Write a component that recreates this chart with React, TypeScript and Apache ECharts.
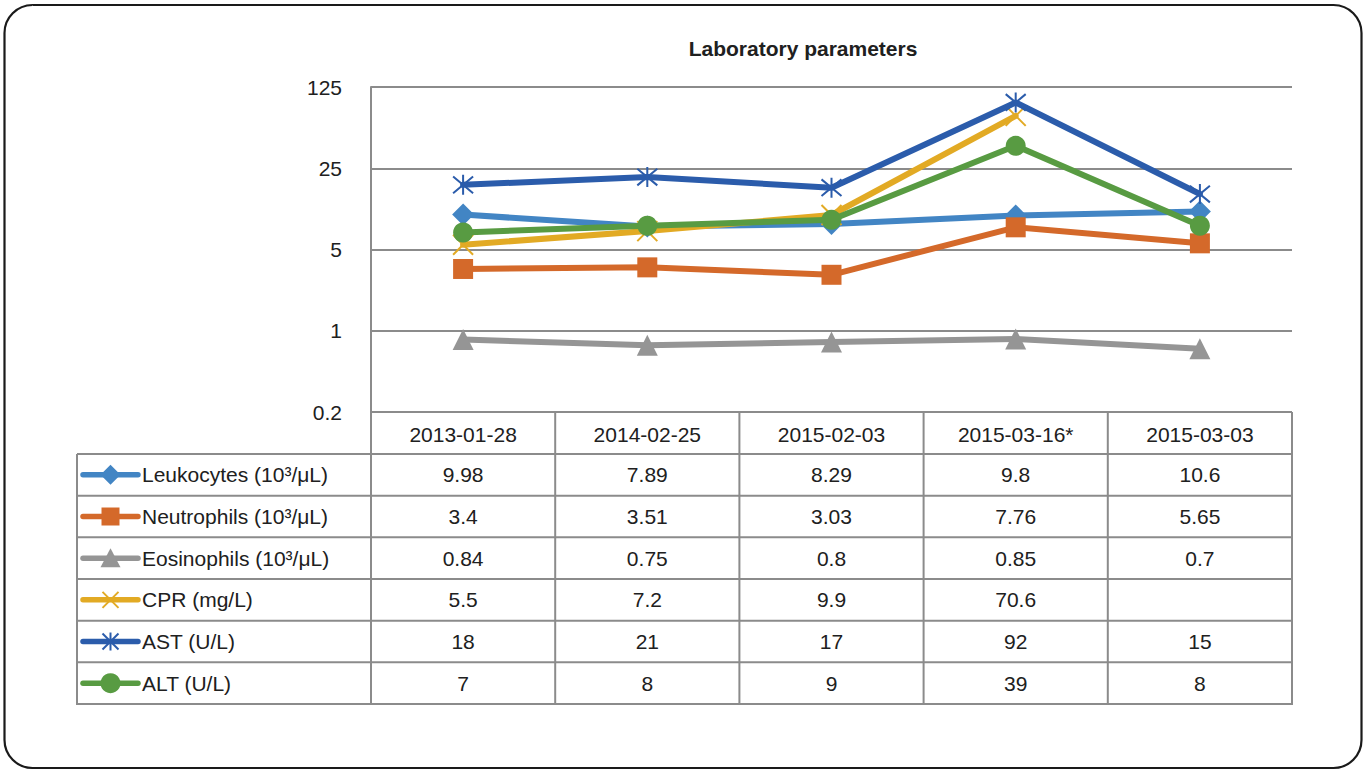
import React, { useEffect, useRef } from 'react';
import * as echarts from 'echarts';

// ---------- data ----------
const categories = ['2013-01-28', '2014-02-25', '2015-02-03', '2015-03-16*', '2015-03-03'];
const seriesNames = [
  'Leukocytes (10³/μL)',
  'Neutrophils (10³/μL)',
  'Eosinophils (10³/μL)',
  'CPR (mg/L)',
  'AST (U/L)',
  'ALT (U/L)',
];
const leukocytes = [9.98, 7.89, 8.29, 9.8, 10.6];
const neutrophils = [3.4, 3.51, 3.03, 7.76, 5.65];
const eosinophils = [0.84, 0.75, 0.8, 0.85, 0.7];
const cpr: (number | null)[] = [5.5, 7.2, 9.9, 70.6, null];
const ast = [18, 21, 17, 92, 15];
const alt = [7, 8, 9, 39, 8];
const yMin = 0.2;
const yMax = 125;
const titleText = 'Laboratory parameters';

// ---------- styles ----------
const FONT = '"Liberation Sans", Arial, Helvetica, sans-serif';
const FS = 21;
const TEXT = '#202020';
const GRID_C = '#8b8b8b';
const colors = ['#4285c4', '#d4692a', '#959595', '#e2aa24', '#2b5cab', '#589b42'];
const XPATH = 'path://M0,0L10,10M10,0L0,10';
const STARPATH = 'path://M0,0L10,10M10,0L0,10M5,-1L5,11';
const symbols = ['diamond', 'rect', 'triangle', XPATH, STARPATH, 'circle'];
const symbolSizes = [22, 20, 21, 20, 20, 20];
const seriesData = [leukocytes, neutrophils, eosinophils, cpr, ast, alt];

// layout (px in the 1363x770 canvas)
const G_LEFT = 371;
const G_RIGHT = 1292;
const G_TOP = 87;
const G_BOTTOM = 412;
const T_LEFT = 77;
const HEAD_BOTTOM = 454;
const ROW_H = 41.67;

function buildGraphic() {
  const els: any[] = [];
  // outer rounded frame
  els.push({
    type: 'rect',
    shape: { x: 4.5, y: 5, width: 1357, height: 763, r: 28 },
    style: { fill: 'none', stroke: '#1a1a1a', lineWidth: 2.2 },
    silent: true,
  });
  // title
  els.push({
    type: 'text',
    x: 803,
    y: 48,
    style: {
      text: titleText,
      font: `bold 21px ${FONT}`,
      fill: TEXT,
      align: 'center',
      verticalAlign: 'middle',
    },
  });
  const nRows = seriesNames.length;
  const tableBottom = HEAD_BOTTOM + nRows * ROW_H;
  const colW = (G_RIGHT - G_LEFT) / categories.length;
  const lineStyle = { stroke: GRID_C, lineWidth: 2 };
  // horizontal lines
  for (let r = 0; r <= nRows; r++) {
    const y = HEAD_BOTTOM + r * ROW_H;
    els.push({ type: 'line', shape: { x1: T_LEFT, y1: y, x2: G_RIGHT + 1, y2: y }, style: lineStyle, z: 1 });
  }
  // vertical lines
  els.push({ type: 'line', shape: { x1: T_LEFT, y1: HEAD_BOTTOM, x2: T_LEFT, y2: tableBottom + 1 }, style: lineStyle, z: 1 });
  for (let c = 0; c <= categories.length; c++) {
    const x = G_LEFT + c * colW;
    els.push({ type: 'line', shape: { x1: x, y1: G_BOTTOM, x2: x, y2: tableBottom + 1 }, style: lineStyle, z: 1 });
  }
  // rows: legend icon + label + values
  for (let r = 0; r < nRows; r++) {
    const cy = HEAD_BOTTOM + r * ROW_H + ROW_H / 2;
    const color = colors[r];
    const cx = 110.5;
    els.push({
      type: 'line',
      shape: { x1: 83, y1: cy, x2: 138, y2: cy },
      style: { stroke: color, lineWidth: 5.5, lineCap: 'round' },
      z: 2,
    });
    const m = 9;
    if (r === 0) {
      els.push({ type: 'polygon', shape: { points: [[cx, cy - m - 1], [cx + m + 1, cy], [cx, cy + m + 1], [cx - m - 1, cy]] }, style: { fill: color }, z: 3 });
    } else if (r === 1) {
      els.push({ type: 'rect', shape: { x: cx - m, y: cy - m, width: 2 * m, height: 2 * m }, style: { fill: color }, z: 3 });
    } else if (r === 2) {
      els.push({ type: 'polygon', shape: { points: [[cx, cy - m - 1], [cx + m + 1, cy + m], [cx - m - 1, cy + m]] }, style: { fill: color }, z: 3 });
    } else if (r === 3 || r === 4) {
      const s = { stroke: color, lineWidth: 2 };
      els.push({ type: 'line', shape: { x1: cx - 8, y1: cy - 8, x2: cx + 8, y2: cy + 8 }, style: s, z: 3 });
      els.push({ type: 'line', shape: { x1: cx + 8, y1: cy - 8, x2: cx - 8, y2: cy + 8 }, style: s, z: 3 });
      if (r === 4) {
        els.push({ type: 'line', shape: { x1: cx, y1: cy - 9, x2: cx, y2: cy + 9 }, style: s, z: 3 });
      }
    } else {
      els.push({ type: 'circle', shape: { cx, cy, r: 10 }, style: { fill: color }, z: 3 });
    }
    els.push({
      type: 'text',
      x: 142,
      y: cy,
      style: { text: seriesNames[r], font: `${FS}px ${FONT}`, fill: TEXT, align: 'left', verticalAlign: 'middle' },
      z: 3,
    });
    const data = seriesData[r];
    for (let c = 0; c < categories.length; c++) {
      const v = data[c];
      if (v == null) continue;
      els.push({
        type: 'text',
        x: G_LEFT + c * colW + colW / 2,
        y: cy,
        style: { text: String(v), font: `${FS}px ${FONT}`, fill: TEXT, align: 'center', verticalAlign: 'middle' },
        z: 3,
      });
    }
  }
  return els;
}

export default function App() {
  const ref = useRef<HTMLDivElement>(null);
  useEffect(() => {
    if (!ref.current) return;
    const chart = echarts.init(ref.current, undefined, { renderer: 'svg' });
    const option: any = {
      animation: false,
      backgroundColor: '#ffffff',
      textStyle: { fontFamily: FONT },
      grid: {
        left: G_LEFT,
        top: G_TOP,
        right: 1363 - G_RIGHT,
        bottom: 770 - G_BOTTOM,
        containLabel: false,
        outerBoundsMode: 'none',
      },
      xAxis: {
        type: 'category',
        data: categories,
        boundaryGap: true,
        axisLine: { show: false },
        axisTick: { show: false },
        splitLine: { show: false },
        axisLabel: {
          interval: 0,
          margin: 22,
          verticalAlign: 'middle',
          fontSize: FS,
          fontFamily: FONT,
          color: TEXT,
        },
      },
      yAxis: {
        type: 'log',
        logBase: 5,
        min: yMin,
        max: yMax,
        axisLine: { show: true, lineStyle: { color: GRID_C, width: 2 } },
        axisTick: { show: false },
        splitLine: { show: true, lineStyle: { color: GRID_C, width: 2 } },
        axisLabel: {
          margin: 29,
          fontSize: FS,
          fontFamily: FONT,
          color: TEXT,
          formatter: (v: number) => (v >= 1 ? String(Math.round(v)) : String(Number(v.toPrecision(2)))),
        },
      },
      series: seriesNames.map((name, i) => ({
        name,
        type: 'line',
        data: seriesData[i],
        symbol: symbols[i],
        symbolSize: symbolSizes[i],
        showAllSymbol: true,
        connectNulls: false,
        lineStyle: { color: colors[i], width: 6, cap: 'round', join: 'round' },
        itemStyle:
          i === 3 || i === 4
            ? { color: 'none', borderColor: colors[i], borderWidth: 2 }
            : { color: colors[i], borderWidth: 0 },
        emphasis: { disabled: true },
        z: 3 + i,
      })),
      graphic: buildGraphic(),
    };
    chart.setOption(option);
    return () => chart.dispose();
  }, []);
  return (
    <div
      ref={ref}
      style={{ position: 'fixed', left: 0, top: 0, width: 1363, height: 770, background: '#fff' }}
    />
  );
}
